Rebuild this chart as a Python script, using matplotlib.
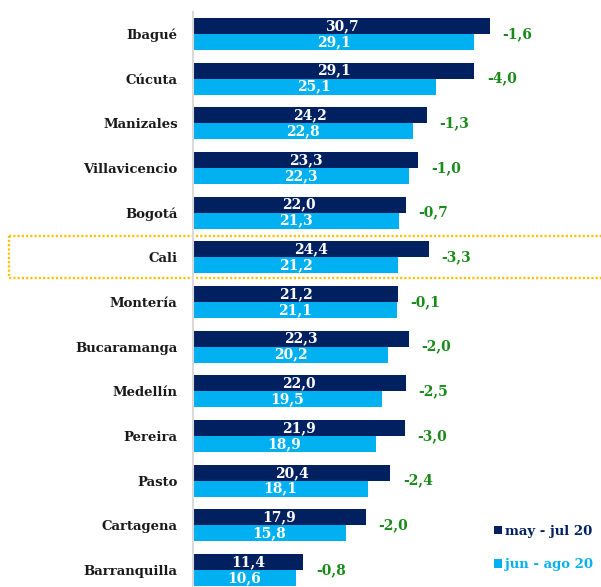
import matplotlib
matplotlib.use('Agg')
import matplotlib.pyplot as plt
from matplotlib.patches import Rectangle
from matplotlib.transforms import blended_transform_factory
import numpy as np

# data
cities = ['Ibagué', 'Cúcuta', 'Manizales', 'Villavicencio', 'Bogotá', 'Cali',
          'Montería', 'Bucaramanga', 'Medellín', 'Pereira', 'Pasto',
          'Cartagena', 'Barranquilla']
may_jul = [30.7, 29.1, 24.2, 23.3, 22.0, 24.4, 21.2, 22.3, 22.0, 21.9, 20.4, 17.9, 11.4]
jun_ago = [29.1, 25.1, 22.8, 22.3, 21.3, 21.2, 21.1, 20.2, 19.5, 18.9, 18.1, 15.8, 10.6]
diffs = [-1.6, -4.0, -1.3, -1.0, -0.7, -3.3, -0.1, -2.0, -2.5, -3.0, -2.4, -2.0, -0.8]
series_names = ['may - jul 20', 'jun - ago 20']
highlight = 'Cali'

dark = '#002060'
light = '#00B0F0'
green = '#1A8A1A'

def fmt(v):
    return f'{v:.1f}'.replace('.', ',')

plt.rcParams['font.family'] = ['DejaVu Serif']
plt.rcParams['font.weight'] = 'bold'

W, H = 601, 587
fig = plt.figure(figsize=(W/100, H/100), dpi=100)
ax = fig.add_axes([193/W, 0, 1 - 193/W, 1 - 12/H])

y = np.arange(len(cities))
h = 0.358
b1 = ax.barh(y - h/2, may_jul, height=h, color=dark, label=series_names[0])
b2 = ax.barh(y + h/2, jun_ago, height=h, color=light, label=series_names[1])

for i in range(len(cities)):
    ax.text(may_jul[i]/2, y[i] - h/2, fmt(may_jul[i]), color='white',
            ha='center', va='center', fontsize=10, fontweight='bold')
    ax.text(jun_ago[i]/2, y[i] + h/2, fmt(jun_ago[i]), color='white',
            ha='center', va='center', fontsize=10, fontweight='bold')
    top = max(may_jul[i], jun_ago[i])
    ax.text(top + 1.3, y[i], fmt(diffs[i]), color=green,
            ha='left', va='center', fontsize=10, fontweight='bold')

ax.set_xlim(0, (W - 193) / 9.67)
ax.set_ylim(-0.4925 + 575/44.67, -0.4925)
ax.set_yticks(y)
ax.set_yticklabels(cities, fontsize=9.5, fontweight='bold', color='#1a1a1a')
ax.tick_params(axis='y', length=0, pad=11)
ax.set_xticks([])
for s in ['top', 'right', 'bottom']:
    ax.spines[s].set_visible(False)
ax.spines['left'].set_color('#d9d9d9')
ax.spines['left'].set_linewidth(1.5)

# dotted box round the highlighted city
k = cities.index(highlight)
tr = blended_transform_factory(fig.transFigure, ax.transData)
box = Rectangle((9/W, k - 0.47), 1.0, 0.94, transform=tr, fill=False,
                edgecolor='#FFC000', linewidth=1.7, linestyle=(0, (0.9, 0.9)),
                clip_on=False)
ax.add_patch(box)

leg = ax.legend(handles=[b1, b2], loc='center right',
                bbox_to_anchor=(600/W, 1 - 548/H), bbox_transform=fig.transFigure,
                frameon=False, fontsize=9.5, handlelength=0.6, handleheight=0.6,
                handletextpad=0.25, labelspacing=1.55, borderpad=0,
                labelcolor=[dark, light])

fig.savefig('out.png', dpi=100)
